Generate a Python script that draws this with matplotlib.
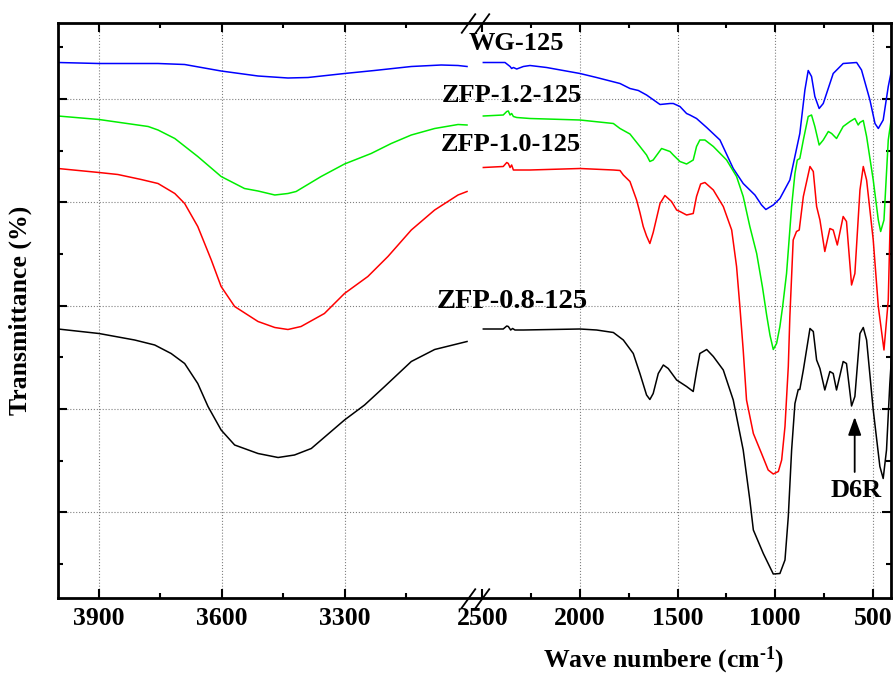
import numpy as np
import matplotlib.pyplot as plt
from matplotlib import rcParams
from matplotlib.transforms import blended_transform_factory

rcParams['font.family'] = 'Liberation Serif'
rcParams['font.weight'] = 'bold'
rcParams['mathtext.fontset'] = 'custom'
rcParams['mathtext.rm'] = 'Liberation Serif:bold'
rcParams['mathtext.it'] = 'Liberation Serif:bold'
rcParams['mathtext.bf'] = 'Liberation Serif:bold'

# FTIR spectra, wavenumber (cm-1) and transmittance (arbitrary offset units)
wg_wn = np.array([4000, 3900, 3756, 3691, 3602, 3512, 3439, 3390, 3301, 3228, 3138, 3065, 3024, 3002,
                  2495, 2384, 2358, 2350, 2341, 2324, 2290, 2256, 2171, 2000, 1915, 1795, 1744, 1701,
                  1659, 1590, 1539, 1522, 1488, 1454, 1437, 1403, 1351, 1283, 1215, 1164, 1104, 1070,
                  1048, 1010, 976, 925, 874, 848, 831, 814, 797, 775, 754, 703, 652, 583, 558, 515,
                  489, 472, 447, 421, 404])
wg_t = np.array([107.5, 107.3, 107.3, 107.1, 105.8, 104.8, 104.4, 104.5, 105.3, 105.9, 106.7, 107.0, 106.9, 106.7,
                 107.5, 107.5, 106.7, 106.3, 106.5, 106.2, 106.7, 106.9, 106.5, 105.3, 104.5, 103.3, 102.3, 101.9,
                 101.0, 99.1, 99.3, 99.3, 98.7, 97.3, 97.0, 96.3, 94.5, 92.0, 86.3, 83.3, 81.0, 79.0,
                 78.1, 79.0, 80.3, 84.0, 93.3, 102.0, 105.9, 104.7, 100.7, 98.3, 99.3, 105.3, 107.3, 107.5, 106.0, 100.0,
                 95.3, 94.3, 96.0, 102.7, 106.0])

zfp12_wn = np.array([4000, 3900, 3780, 3756, 3715, 3659, 3602, 3545, 3512, 3471, 3439, 3419, 3358, 3301,
                     3236, 3187, 3138, 3081, 3024, 3002,
                     2495, 2393, 2375, 2367, 2358, 2350, 2341, 2324, 2256, 2000, 1829, 1795, 1744, 1693,
                     1659, 1642, 1625, 1582, 1539, 1522, 1488, 1454, 1420, 1403, 1386, 1360, 1317, 1249,
                     1198, 1164, 1130, 1095, 1065, 1044, 1027, 1010, 993, 976, 962, 942, 916, 899, 887,
                     874, 856, 831, 814, 797, 775, 754, 728, 711, 686, 652, 617, 592, 575, 566, 549, 532,
                     498, 472, 460, 443, 421, 404])
zfp12_t = np.array([96.8, 96.1, 94.7, 94.0, 92.3, 88.7, 84.7, 82.3, 81.8, 81.0, 81.3, 81.7, 84.7, 87.2,
                    89.3, 91.3, 93.0, 94.3, 95.1, 95.0,
                    96.8, 97.0, 97.7, 97.8, 97.0, 97.3, 96.7, 96.5, 96.3, 96.0, 95.3, 94.3, 93.2, 90.7,
                    89.0, 87.7, 88.0, 90.3, 89.7, 89.0, 87.7, 87.2, 88.0, 90.7, 92.0, 92.0, 90.7, 88.0,
                    84.7, 80.7, 74.7, 69.3, 62.5, 57.0, 53.0, 50.1, 51.3, 54.7, 58.7, 65.3, 78.7, 85.3, 88.0,
                    88.3, 92.0, 96.7, 97.0, 94.7, 91.0, 92.0, 93.7, 93.3, 92.3, 94.7, 95.7, 96.3, 95.0, 95.5, 95.9, 92.7,
                    84.0, 76.0, 73.7, 76.0, 92.0, 96.7])

zfp10_wn = np.array([4000, 3900, 3854, 3797, 3756, 3715, 3691, 3659, 3626, 3602, 3569, 3512, 3471, 3439,
                     3407, 3350, 3301, 3244, 3195, 3138, 3081, 3024, 3002,
                     2495, 2393, 2375, 2367, 2358, 2350, 2341, 2324, 2256, 2000, 1829, 1795, 1778, 1744,
                     1710, 1693, 1676, 1659, 1642, 1625, 1590, 1565, 1531, 1505, 1488, 1454, 1420, 1403,
                     1382, 1360, 1317, 1266, 1223, 1198, 1181, 1164, 1147, 1112, 1070, 1036, 1010, 984, 967,
                     950, 933, 925, 908, 891, 877, 856, 822, 805, 788, 771, 746, 720, 703, 682, 652, 635,
                     609, 592, 566, 549, 532, 498, 472, 443, 421, 404])
zfp10_t = np.array([86.3, 85.5, 85.1, 84.1, 83.3, 81.3, 79.3, 74.7, 68.0, 62.7, 58.7, 55.7, 54.5, 54.1,
                    54.7, 57.3, 61.3, 64.7, 68.7, 74.0, 78.0, 81.0, 81.7,
                    86.5, 86.7, 87.5, 87.3, 86.5, 87.0, 86.0, 86.0, 86.0, 86.3, 86.0, 85.9, 85.0, 83.7,
                    80.0, 77.5, 74.7, 72.8, 71.3, 73.5, 79.3, 80.9, 79.7, 78.0, 77.7, 77.0, 77.3, 80.7,
                    83.2, 83.5, 82.0, 78.7, 74.0, 66.7, 58.7, 50.0, 40.0, 33.3, 29.3, 26.0, 25.2, 25.7, 28.0,
                    34.7, 46.7, 56.7, 72.0, 73.7, 74.0, 80.7, 86.7, 85.7, 78.7, 76.0, 69.7, 74.3, 74.0, 71.0, 76.7, 75.7,
                    63.0, 65.3, 82.0, 86.7, 84.0, 72.0, 58.7, 50.0, 60.0, 87.3])

zfp08_wn = np.array([4000, 3900, 3813, 3764, 3724, 3691, 3659, 3634, 3602, 3569, 3512, 3463, 3423, 3382,
                     3301, 3252, 3203, 3138, 3081, 3002,
                     2495, 2393, 2375, 2367, 2355, 2345, 2333, 2290, 2000, 1915, 1829, 1778, 1727, 1693,
                     1659, 1642, 1625, 1599, 1573, 1548, 1505, 1454, 1420, 1403, 1386, 1351, 1317, 1266,
                     1215, 1164, 1130, 1112, 1061, 1010, 976, 950, 933, 916, 899, 882, 874, 856, 822, 805,
                     788, 771, 746, 720, 703, 686, 652, 635, 609, 592, 566, 549, 532, 498, 464, 447, 430,
                     413, 399])
zfp08_t = np.array([54.2, 53.3, 52.0, 51.0, 49.3, 47.3, 43.3, 38.7, 34.0, 31.0, 29.3, 28.5, 29.0, 30.3,
                    36.0, 39.0, 42.7, 47.7, 50.1, 51.7,
                    54.2, 54.2, 54.8, 54.7, 54.0, 54.3, 54.0, 54.0, 54.2, 54.0, 53.5, 52.0, 49.3, 45.3,
                    41.0, 40.1, 41.3, 45.3, 47.0, 46.3, 44.0, 42.7, 41.7, 45.7, 49.3, 50.1, 48.7, 46.0,
                    40.0, 30.0, 20.0, 14.0, 9.3, 5.2, 5.3, 8.0, 16.7, 30.0, 39.3, 42.1, 42.1, 46.0, 54.3, 53.7,
                    48.0, 46.3, 42.0, 45.7, 45.3, 42.0, 47.7, 47.3, 38.8, 40.7, 53.3, 54.5, 52.0, 38.0, 26.7, 24.3, 30.0,
                    43.3, 52.0])

names = ['WG-125', 'ZFP-1.2-125', 'ZFP-1.0-125', 'ZFP-0.8-125']
colors = ['blue', '#00ee00', 'red', 'black']
series = [(wg_wn, wg_t), (zfp12_wn, zfp12_t), (zfp10_wn, zfp10_t), (zfp08_wn, zfp08_t)]
label_pos = [(2328, 110.0, 19), (2349, 99.6, 19), (2354, 89.8, 19), (2346, 58.4, 20.5)]

major_x = [3900, 3600, 3300, 2500, 2000, 1500, 1000, 500]
minor_x = [3750, 3450, 3150, 2250, 1750, 1250, 750]
major_y = [17.54, 38.2, 58.86, 79.54, 100.2]
minor_y = [7.2, 27.86, 48.54, 69.2, 89.86, 110.54]

# broken axis: 4000-3000 wide, 3000-2500 squeezed into a small gap, 2500-400 compressed
brk_w = [-1000, 2500, 3000, 4000, 5000]
brk_p = [-1108.1, -424.5, -410.0, 0.0, 410.0]


def fwd(w):
    return np.interp(w, brk_w, brk_p)


def inv(p):
    return np.interp(p, brk_p, brk_w)


fig = plt.figure(figsize=(8.93, 6.81), dpi=100)
ax = fig.add_axes([58/893, 83/681, 833/893, 575/681])
ax.set_xscale('function', functions=(fwd, inv))
ax.set_xlim(4000, 407)
ax.set_ylim(0.4, 115.4)

for (wn, t), c in zip(series, colors):
    left = wn >= 2750
    ax.plot(wn[left], t[left], color=c, lw=1.1)
    ax.plot(wn[~left], t[~left], color=c, lw=1.1)

for name, (lx, ly, fs) in zip(names, label_pos):
    ax.text(lx, ly, name, ha='center', va='baseline', fontsize=fs, fontweight='bold')

ax.text(584, 20.6, 'D6R', ha='center', va='baseline', fontsize=19, fontweight='bold')
ax.annotate('', xy=(593, 36.6), xytext=(593, 25.6),
            arrowprops=dict(arrowstyle='-|>,head_length=0.55,head_width=0.2',
                            color='k', lw=1.3, mutation_scale=20, shrinkA=0, shrinkB=0))

ax.set_xticks(major_x, labels=[str(v) for v in major_x])
ax.set_xticks(minor_x, minor=True)
ax.set_yticks(major_y)
ax.set_yticks(minor_y, minor=True)
ax.tick_params(labelleft=False)
ax.tick_params(which='both', direction='in', top=True, right=True, width=1.5, color='k')
ax.tick_params(which='major', length=6.5, pad=6.5, labelsize=18.5)
ax.tick_params(which='minor', length=3.6)
for s in ax.spines.values():
    s.set_linewidth(2)

ax.grid(True, which='major', ls=':', color='gray', lw=0.8)
for tick in ax.xaxis.get_major_ticks():
    if tick.get_loc() == 2500:
        tick.gridline.set_visible(False)

# break marks
trans = blended_transform_factory(ax.transData, ax.transAxes)
for yb in (0, 1):
    ax.plot([3000, 2500], [yb, yb], transform=trans, ls='none',
            marker=[(-0.725, -1), (0.725, 1)], ms=14.4, mec='k', mew=1.3,
            clip_on=False, zorder=5)

fig.text(663.5/893, 14/681, r'Wave numbere (cm$^{\text{-1}}$)', ha='center', va='baseline',
         fontsize=18.5, fontweight='bold')
fig.text(20/893, 371/681, 'Transmittance (%)', rotation=90, ha='center', va='center',
         fontsize=18.5, fontweight='bold')

fig.savefig('out.png', dpi=100)
